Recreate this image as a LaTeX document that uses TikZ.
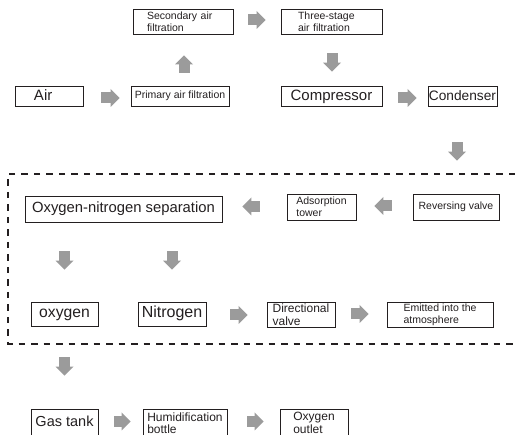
\documentclass[tikz,border=0pt]{standalone}
\usepackage{fontspec}
\setmainfont{Liberation Sans}
\usetikzlibrary{arrows.meta,calc}
\definecolor{inkgray}{HTML}{231F20}
\definecolor{arrowgray}{HTML}{9B9B9B}

\begin{document}
\begin{tikzpicture}[x=1pt,y=-1pt,
		box/.style={draw=inkgray,line width=0.9pt,text=inkgray,inner sep=0pt},
		bigbox/.style={box,font=\fontsize{#1}{#1}\selectfont,text height=0.8em,text depth=0.05em},
		bigbox/.default=15,
		lowtext/.style={text height=0.9em,text depth=-0.05em},
		smallbox/.style={box,font=\fontsize{10.5}{12}\selectfont,align=left},
		midbox/.style={box,font=\fontsize{12}{12.5}\selectfont,align=left},
		flow/.style={arrowgray,line width=11pt,-{Triangle[length=9pt,width=18pt,line width=0pt]}},
		frame/.style={inkgray,line width=1.1pt,dash pattern=on 6.5pt off 6pt}]
		\useasboundingbox (0,0) rectangle (515,435);
		% intake and compression
		\node[smallbox,minimum width=100,minimum height=25,text width=72] (sec) at (183,21.5) {Secondary air\\filtration};
		\node[smallbox,minimum width=101,minimum height=25,text width=67] (three) at (331.5,21.5) {Three-stage\\air filtration};
		\node[bigbox,lowtext,minimum width=68,minimum height=20,align=left,text width=30] (air) at (49,96) {Air};
		\node[smallbox,minimum width=98,minimum height=20] (prim) at (180,96) {Primary air filtration};
		\node[bigbox,lowtext,minimum width=101,minimum height=20] (comp) at (331.5,96) {Compressor};
		\node[bigbox=13.7,lowtext,minimum width=69,minimum height=20] (cond) at (462.5,96) {Condenser};
		% separation
		\node[bigbox=14.8,minimum width=197,minimum height=26] (sep) at (123.5,209) {Oxygen-nitrogen separation};
		\node[smallbox,minimum width=69,minimum height=26] (ads) at (321.5,207) {Adsorption\\tower};
		\node[smallbox,minimum width=86,minimum height=26] (rev) at (456,207) {Reversing valve};
		\node[bigbox=15.7,minimum width=67,minimum height=24] (oxy) at (64.5,314) {oxygen};
		\node[bigbox=16,minimum width=68,minimum height=24] (nit) at (172,314) {Nitrogen};
		\node[midbox,minimum width=68,minimum height=25] (dir) at (301,314.5) {Directional\\valve};
		\node[smallbox,minimum width=106,minimum height=25] (emit) at (440,314.5) {Emitted into the\\atmosphere};
		% delivery
		\node[bigbox=14.5,minimum width=67,minimum height=28] (gas) at (64.5,423) {Gas tank};
		\node[midbox,minimum width=84,minimum height=28] (hum) at (185,423) {Humidification\\bottle};
		\node[midbox,minimum width=68,minimum height=28] (outl) at (314,423) {Oxygen\\outlet};
		% block arrows
		\draw[flow] ($(air.east)+(18,2)$) -- ($(prim.west)+(-11,2)$);
		\draw[flow] ($(prim.north)+(4,-13)$) -- ($(sec.south)+(1,21)$);
		\draw[flow] ($(sec.east)+(15,-1.5)$) -- ($(three.west)+(-15,-1.5)$);
		\draw[flow] ($(three.south)+(0.5,19)$) -- ($(comp.north)+(0.5,-14)$);
		\draw[flow] ($(comp.east)+(16,2)$) -- ($(cond.west)+(-11,2)$);
		\draw[flow] ($(cond.south)+(-5.5,36)$) -- ($(rev.north)+(1,-33)$);
		\draw[flow] ($(rev.west)+(-21,-1)$) -- ($(ads.east)+(18,-1)$);
		\draw[flow] ($(ads.west)+(-27,-0.5)$) -- ($(sep.east)+(20,-2.5)$);
		\draw[flow] ($(sep.south -| oxy.north)+(0,29)$) -- ($(oxy.north)+(0,-32)$);
		\draw[flow] ($(sep.south -| nit.north)+(0,29)$) -- ($(nit.north)+(0,-32)$);
		\draw[flow] ($(nit.east)+(24,1)$) -- ($(dir.west)+(-19,0.5)$);
		\draw[flow] ($(dir.east)+(16,-0.5)$) -- ($(emit.west)+(-18,-0.5)$);
		\draw[flow] ($(oxy.south)+(0,31)$) -- ($(gas.north)+(0,-33)$);
		\draw[flow] ($(gas.east)+(16,-1.5)$) -- ($(hum.west)+(-12,-1.5)$);
		\draw[flow] ($(hum.east)+(20,-1.5)$) -- ($(outl.west)+(-16,-1.5)$);
		% dashed frame round the separation stage
		\draw[frame] (515,174) -- (8,174) -- (8,344) -- (515,344);
	\end{tikzpicture}
\end{document}
